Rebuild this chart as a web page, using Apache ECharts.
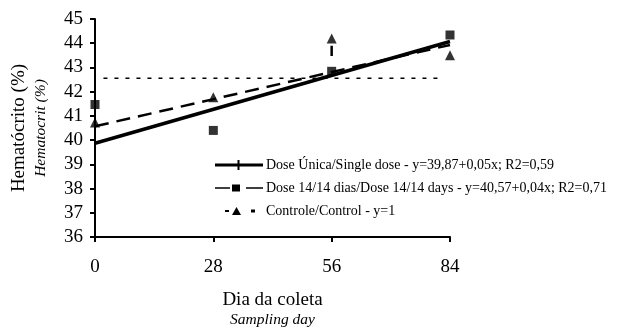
<!DOCTYPE html>
<html><head><meta charset="utf-8">
<script src="https://cdn.jsdelivr.net/npm/echarts@6/dist/echarts.min.js"></script>
<style>html,body{margin:0;padding:0;background:#fff}#c{width:626px;height:328px}</style>
</head><body><div id="c"></div>
<script>
var days = [0, 28, 56, 84];
var xTicks = [0, 28, 56, 84];
var singleFit = [39.87, 44.07];            // fitted line at day 0 and 84
var multiValues = [41.47, 40.40, 42.84, 44.34];  // squares
var multiFit = [40.57, 43.93];
var controlValues = [40.73, 41.77, 44.20, 43.50]; // triangles
var controlMean = 42.55;
var controlSpur = [43.47, 43.90];          // short vertical dash at day 56

var names = [
  'Dose Única/Single dose - y=39,87+0,05x; R2=0,59',
  'Dose 14/14 dias/Dose 14/14 days - y=40,57+0,04x; R2=0,71',
  'Controle/Control - y=1'
];
var F = 'Liberation Serif, Times New Roman, serif';
var chart = echarts.init(document.getElementById('c'));
chart.setOption({
  animation: false,
  textStyle: {fontFamily: F},
  grid: {left: 95, right: 176, top: 19, bottom: 91, containLabel: false, outerBoundsMode: 'none'},
  xAxis: {
    type: 'value', min: 0, max: 84, interval: 28,
    axisLine: {lineStyle: {color: '#000', width: 2}},
    axisTick: {show: true, inside: false, length: 5, lineStyle: {color: '#000', width: 2}},
    axisLabel: {color: '#000', fontSize: 19, fontFamily: F, margin: 21},
    splitLine: {show: false},
    name: '{a|Dia da coleta}\n{b|Sampling day}',
    nameLocation: 'middle', nameGap: 52,
    nameTextStyle: {rich: {
      a: {fontSize: 19, fontFamily: F, color: '#000', lineHeight: 22},
      b: {fontSize: 15.5, fontFamily: F, fontStyle: 'italic', color: '#000', lineHeight: 17}
    }}
  },
  yAxis: {
    type: 'value', min: 36, max: 45, interval: 1,
    axisLine: {show: true, lineStyle: {color: '#000', width: 2}},
    axisTick: {show: true, inside: false, length: 5, lineStyle: {color: '#000', width: 2}},
    axisLabel: {color: '#000', fontSize: 19, fontFamily: F, margin: 12},
    splitLine: {show: false},
    name: '{a|Hematócrito (%)}\n{b|Hematocrit (%)}',
    nameLocation: 'middle', nameGap: 45, nameRotate: 90,
    nameTextStyle: {rich: {
      a: {fontSize: 19, fontFamily: F, color: '#000', lineHeight: 25},
      b: {fontSize: 15.5, fontFamily: F, fontStyle: 'italic', color: '#000', lineHeight: 18}
    }}
  },
  legend: {
    left: 210, top: 153, orient: 'vertical', itemWidth: 48, itemHeight: 10, itemGap: 9,
    textStyle: {fontSize: 14, fontFamily: F, color: '#000', padding: [0, 0, 0, -2]},
    data: [
      {name: names[0], icon: 'path://M0,3.5H48V6.5H0Z M22.5,0H24.5V10H22.5Z'},
      {name: names[1], icon: 'path://M0,4.3H15V5.7H0Z M17,1.5H25V8.5H17Z M31,4.3H48V5.7H31Z M0,0V10 M48,0V10'},
      {name: names[2], icon: 'path://M10,4H14V6H10Z M21.5,1L26,9H17Z M36,3.5H40V6.5H36Z M0,0V10 M48,0V10'}
    ]
  },
  series: [
    {name: names[0], type: 'line', symbol: 'none', lineStyle: {color: '#000', width: 3.5},
     itemStyle: {color: '#000'},
     data: [[days[0], singleFit[0]], [days[3], singleFit[1]]]},
    {name: names[1], type: 'line', symbol: 'none', lineStyle: {color: '#000', width: 2.5, type: [14, 8]},
     itemStyle: {color: '#000'},
     data: [[days[0], multiFit[0]], [days[3], multiFit[1]]]},
    {name: names[1], type: 'scatter', symbol: 'rect', symbolSize: 9, itemStyle: {color: '#000'},
     data: days.map(function (d, i) { return [d, multiValues[i]]; })},
    {name: names[2], type: 'line', symbol: 'none', lineStyle: {color: '#000', width: 1.5, type: [4, 7]},
     itemStyle: {color: '#000'},
     data: [[days[0] + 2, controlMean], [days[3] - 2, controlMean]]},
    {name: names[2], type: 'scatter', symbol: 'triangle', symbolSize: 10, itemStyle: {color: '#000'},
     data: days.map(function (d, i) { return [d, controlValues[i]]; })},
    {type: 'line', symbol: 'none', lineStyle: {color: '#000', width: 2.5},
     data: [[days[2], controlSpur[0]], [days[2], controlSpur[1]]]}
  ]
});
</script></body></html>
